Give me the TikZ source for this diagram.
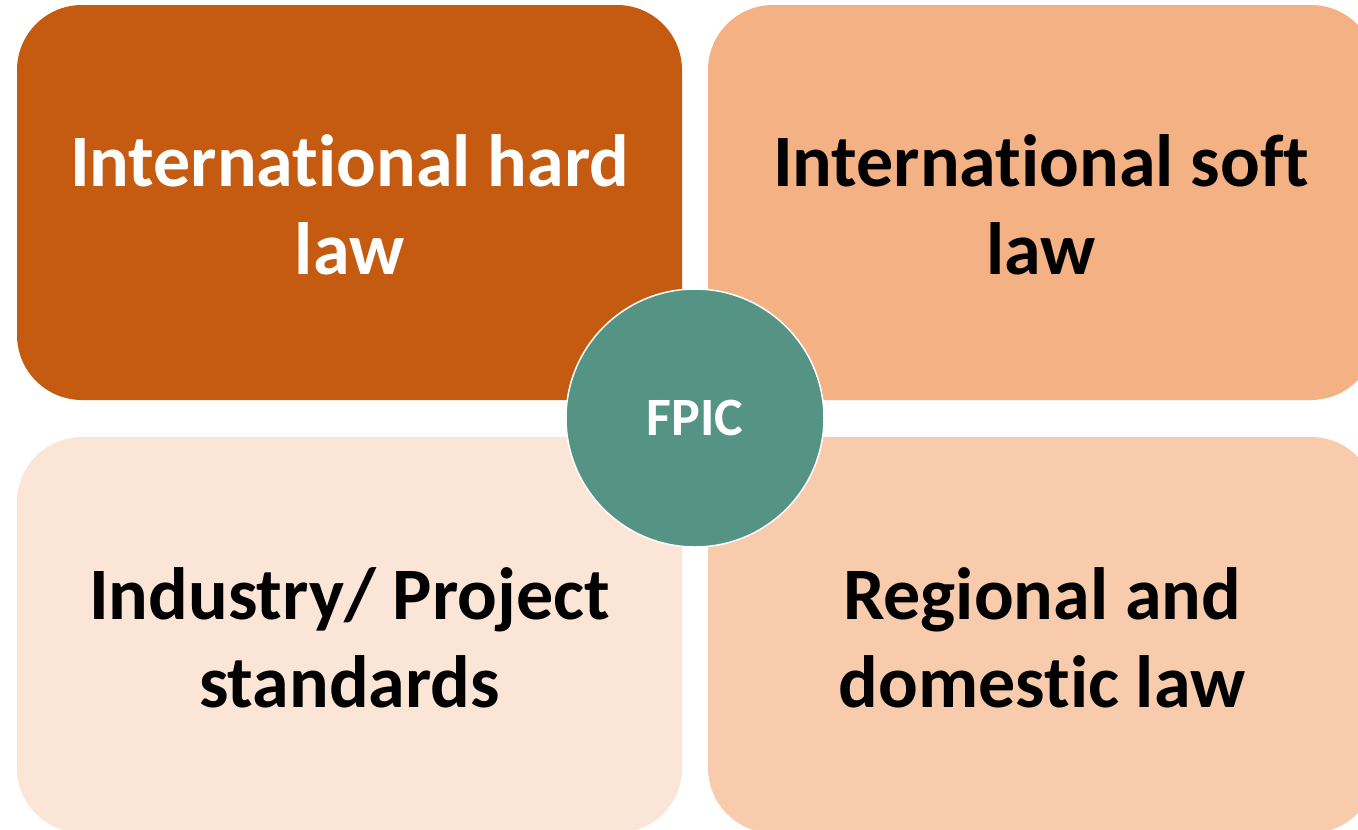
\documentclass[tikz,border=0pt]{standalone}
\usepackage{fontspec}
\setmainfont[Ligatures={NoCommon,NoContextual}]{Carlito}
\definecolor{hardlaw}{HTML}{C55A11}
\definecolor{softlaw}{HTML}{F4B183}
\definecolor{industry}{HTML}{FBE5D6}
\definecolor{regional}{HTML}{F8CBAD}
\definecolor{fpic}{HTML}{559485}
\begin{document}
\begin{tikzpicture}[x=1pt,y=-1pt,
  quad/.style={rounded corners=65pt},
  quadtext/.style={align=center,font=\fontsize{74}{88}\selectfont\bfseries,inner sep=0pt},
  ]
\useasboundingbox (0,0) rectangle (1358,830);
\begin{scope}
\clip (0,0) rectangle (1358,830);
\fill[hardlaw,quad] (17,5) rectangle (682,400);
\fill[softlaw,quad] (708,5) rectangle (1376,400);
\fill[industry,quad] (17,437) rectangle (682,833);
\fill[regional,quad] (708,437) rectangle (1376,833);
\end{scope}
\node[quadtext,text=white] (hard) at (349.5,205) {International hard\\law};
\node[quadtext,text=black] (soft) at (1041,205) {International soft\\law};
\node[quadtext,text=black] (ind) at (349.5,638) {Industry/ Project\\standards};
\node[quadtext,text=black] (reg) at (1042,638) {Regional and\\domestic law};
\node[circle,fill=fpic,draw=white,line width=1.5pt,minimum size=258pt,inner sep=0pt,
  text=white,font=\fontsize{54}{64}\selectfont\bfseries] (fpic) at (695,418) {FPIC};
\end{tikzpicture}
\end{document}
